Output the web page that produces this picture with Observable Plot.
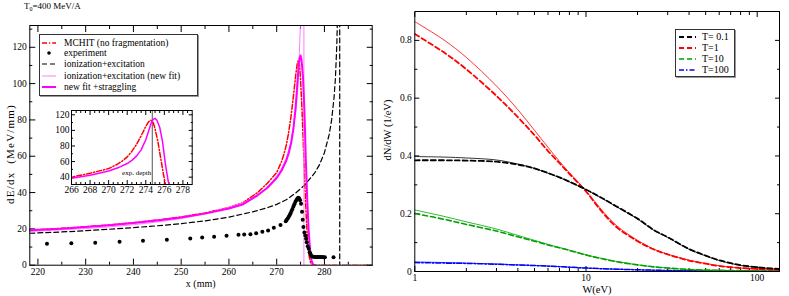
<!DOCTYPE html>
<html><head><meta charset="utf-8">
<script src="https://cdn.jsdelivr.net/npm/d3@7"></script>
<script src="https://cdn.jsdelivr.net/npm/@observablehq/plot@0.6"></script>
<style>
body{margin:0;background:#fff;}
#wrap{position:relative;width:789px;height:296px;overflow:hidden;font-family:"Liberation Serif","Times New Roman","DejaVu Serif",serif;color:#000;}
.abs{position:absolute;}
.lbl{position:absolute;white-space:nowrap;transform:translate(-50%,-50%);}
.rot{transform:translate(-50%,-50%) rotate(-90deg);}
.legend{position:absolute;background:#fff;border:1px solid #333;box-shadow:1px 1px 0 #999;}
.row{position:absolute;left:0;height:10px;white-space:nowrap;}
.row svg{position:absolute;top:0;}
.row span{position:absolute;top:0;line-height:10px;}
</style></head>
<body><div id="wrap"></div>
<script>
// ---------- left panel data (dE/dx vs depth, T0 = 400 MeV/A) ----------
const mchitX = [218.3,225,230,235,240,245,250,255,260,263,266,268,270,271,271.5,272,272.5,273,273.5,274,274.3,274.55,274.8,275.0,275.3,275.6,275.9,276.2,276.5,276.8,277.1,277.5,278,290];
const mchitY = [19.4,20.3,21.2,22.2,23.4,24.9,26.6,28.8,31.8,34.6,40,45,51,57,61,66,73,82,93,105,111,113,110,102,86,65,44,26,13,5,1.5,0.3,0,0];
const expX = [221.9,227,232,237.1,242,247,251.9,254.4,256.9,259.5,262,263.2,264.5,265.7,267,268.2,269.4,270.8,271.9,272.1,272.3,272.5,272.7,272.9,273.1,273.3,273.5,273.7,273.9,274.1,274.3,274.5,274.7,274.9,275.1,275.3,275.45,275.6,275.8,276.0,276.15,276.3,276.5,276.7,276.9,277.05,277.2,277.4,277.7,278.0,278.3,278.6,278.9,279.2,279.5,279.8,280.1,281.9];
const expY = [11.8,12.1,12.3,12.9,13.4,14.0,14.7,15.2,15.6,16.2,16.7,16.9,17.1,17.6,18.4,19.1,20.6,22.2,24.2,25,25.7,26.5,27.5,28.6,29.8,31,32.3,33.6,34.8,35.8,36.6,37.1,36.8,35.8,33.8,29.5,25,21,18,16.3,14.5,12.7,10.5,9,7.2,6.3,5.4,4.8,4.6,4.5,4.5,4.5,4.5,4.5,4.5,4.4,4.4,4.4];
const ionX = [218.3,225,230,235,240,245,250,255,260,265,268,270,272,274,276,278,279,280,281,281.5,282,282.3,282.6,282.8,283.2,283.2];
const ionY = [17.6,18.3,19.0,19.8,20.7,21.7,22.9,24.4,26.5,29.4,31.6,33.5,36,39.8,44.5,51,55.5,62,72,80,92,103,122,145,150,0];
const fitX = [218.3,225,230,235,240,245,250,255,260,264,267,269,271,272,273,274,274.5,274.9,275.1,275.7,275.7,276];
const fitY = [18.6,19.5,20.2,21.1,22.3,23.8,25.7,28.3,31.8,35.5,40.5,45.5,53,59,68,84,100,128,150,150,0,0];
const stragX = [218.3,225,230,235,240,245,250,255,260,263,266,268,270,271,272,272.5,273,273.5,274,274.3,274.6,274.8,275.0,275.2,275.5,275.8,276.1,276.4,276.7,277.0,277.3,277.6,278];
const stragY = [19.2,20.1,21.0,22.0,23.2,24.6,26.3,28.4,31.2,33.6,38.5,42.5,48,52,57.5,61.5,67,75,88,99,110,114,115.5,113,104,86,58,36,19,8,2.5,0.5,0];
const expDepth = [274.7];
const leftXTicks = [220,230,240,250,260,270,280];
const leftXMinor = [225,235,245,255,265,275,285];
const leftYTicks = [0,20,40,60,80,100,120];
const leftYMinor = [10,30,50,70,90,110,130];
const insetXTicks = [266,268,270,272,274,276,278];
const insetXMinor = [266.5,267,267.5,268.5,269,269.5,270.5,271,271.5,272.5,273,273.5,274.5,275,275.5,276.5,277,277.5,278.5];
const insetYTicks = [40,60,80,100,120];
const insetYMinor = [50,70,90,110];

// ---------- right panel data (dN/dW vs W) ----------
const W = [1,1.5,2,3,4,5,6,7,8,10,12,15,20,25,30,40,50,60,80,100,120,135];
const t01Fit  = [0.398,0.396,0.393,0.386,0.372,0.357,0.34,0.325,0.31,0.283,0.258,0.225,0.182,0.142,0.118,0.077,0.054,0.038,0.021,0.014,0.01,0.008];
const t01Calc = [0.385,0.385,0.384,0.38,0.37,0.357,0.341,0.326,0.311,0.284,0.259,0.226,0.183,0.143,0.119,0.078,0.055,0.039,0.022,0.015,0.011,0.009];
const t1Fit   = [0.865,0.799,0.741,0.642,0.56,0.489,0.43,0.381,0.342,0.28,0.222,0.16,0.108,0.077,0.06,0.039,0.028,0.02,0.012,0.009,0.007,0.006];
const t1Calc  = [0.822,0.756,0.7,0.608,0.534,0.472,0.417,0.375,0.338,0.277,0.217,0.155,0.105,0.076,0.059,0.038,0.027,0.019,0.012,0.009,0.007,0.006];
const t10Fit  = [0.213,0.19,0.172,0.147,0.125,0.108,0.094,0.083,0.074,0.058,0.047,0.035,0.023,0.016,0.012,0.007,0.005,0.004,0.003,0.002,0.0015,0.001];
const t10Calc = [0.201,0.18,0.163,0.14,0.12,0.105,0.092,0.082,0.073,0.057,0.046,0.034,0.023,0.016,0.012,0.007,0.005,0.004,0.003,0.002,0.0015,0.001];
const t100Fit = [0.033,0.031,0.029,0.026,0.023,0.021,0.019,0.017,0.015,0.012,0.01,0.008,0.006,0.0045,0.0035,0.0025,0.002,0.0015,0.001,0.0008,0.0006,0.0005];
const t100Calc= [0.031,0.029,0.028,0.025,0.0225,0.0205,0.0185,0.0168,0.015,0.012,0.01,0.008,0.006,0.0045,0.0035,0.0025,0.002,0.0015,0.001,0.0008,0.0006,0.0005];
const rightXTicks = [1,10,100];
const rightXMinor = [2,3,4,5,6,7,8,9,20,30,40,50,60,70,80,90];
const rightYTicks = [0,0.2,0.4,0.6,0.8];
const rightYMinor = [0.1,0.3,0.5,0.7];

const SERIF = '"Liberation Serif","Times New Roman","DejaVu Serif",serif';
const pts = (X, Y) => X.map((x, i) => ({x, y: Y[i]}));
const blank = () => "";

function frameTicks(o) {
  const fmt = o.fmt || (d => String(d));
  const big = o.big, small = o.small;
  return [
    Plot.axisX({anchor: "bottom", ticks: o.xt, tickSize: -big, tickPadding: big + o.padX, tickFormat: fmt, label: null}),
    Plot.axisX({anchor: "bottom", ticks: o.xm, tickSize: -small, tickFormat: blank, label: null}),
    Plot.axisX({anchor: "top", ticks: o.xt, tickSize: -big, tickFormat: blank, label: null}),
    Plot.axisX({anchor: "top", ticks: o.xm, tickSize: -small, tickFormat: blank, label: null}),
    Plot.axisY({anchor: "left", ticks: o.yt, tickSize: -big, tickPadding: big + o.padY, tickFormat: fmt, label: null}),
    Plot.axisY({anchor: "left", ticks: o.ym, tickSize: -small, tickFormat: blank, label: null}),
    Plot.axisY({anchor: "right", ticks: o.yt, tickSize: -big, tickFormat: blank, label: null}),
    Plot.axisY({anchor: "right", ticks: o.ym, tickSize: -small, tickFormat: blank, label: null})
  ];
}

const wrap = document.getElementById("wrap");
function place(node, left, top) {
  node.style.position = "absolute";
  node.style.left = left + "px";
  node.style.top = top + "px";
  wrap.appendChild(node);
}

// ---- left main plot ----
const leftPlot = Plot.plot({
  width: 390, height: 296,
  marginLeft: 29.3, marginRight: 18.3, marginTop: 25, marginBottom: 31.3,
  style: {fontFamily: SERIF, fontSize: "9.5px", background: "transparent", overflow: "visible"},
  x: {domain: [218.3, 290]},
  y: {domain: [0, 132]},
  marks: [
    ...frameTicks({xt: leftXTicks, xm: leftXMinor, yt: leftYTicks, ym: leftYMinor, big: 6, small: 3, padX: 3, padY: 3}),
    Plot.line(pts(mchitX, mchitY), {x: "x", y: "y", stroke: "#ff0000", strokeWidth: 1.5, strokeDasharray: "5,2,1.2,2", clip: true}),
    Plot.line(pts(ionX, ionY), {x: "x", y: "y", stroke: "#000", strokeWidth: 1.2, strokeDasharray: "5,3", clip: true}),
    Plot.line(pts(fitX, fitY), {x: "x", y: "y", stroke: "#ff7fff", strokeWidth: 1, clip: true}),
    Plot.line(pts(stragX, stragY), {x: "x", y: "y", stroke: "#ff00ff", strokeWidth: 2, clip: true}),
    Plot.dot(pts(expX, expY), {x: "x", y: "y", r: 2, fill: "#000", stroke: "none"}),
    Plot.frame({stroke: "#000"})
  ]
});
place(leftPlot, 0, 0);

// ---- inset ----
const insetPlot = Plot.plot({
  width: 160, height: 100,
  marginLeft: 30, marginRight: 9.3, marginTop: 12, marginBottom: 14,
  style: {fontFamily: SERIF, fontSize: "9.5px", background: "transparent", overflow: "visible"},
  x: {domain: [266, 279]},
  y: {domain: [30.6, 125.5]},
  marks: [
    Plot.frame({fill: "#fff", stroke: "none"}),
    ...frameTicks({xt: insetXTicks, xm: insetXMinor, yt: insetYTicks, ym: insetYMinor, big: 4, small: 2, padX: 2, padY: 2}),
    Plot.ruleX(expDepth, {stroke: "#555", strokeWidth: 1}),
    Plot.text(expDepth, {x: d => d, y: 46, text: () => "exp. depth", textAnchor: "end", dx: -1, fontSize: 7}),
    Plot.line(pts(mchitX, mchitY), {x: "x", y: "y", stroke: "#ff0000", strokeWidth: 1.5, strokeDasharray: "5,2,1.2,2", clip: true}),
    Plot.line(pts(stragX, stragY), {x: "x", y: "y", stroke: "#ff00ff", strokeWidth: 1.5, clip: true}),
    Plot.frame({stroke: "#000"})
  ]
});
place(insetPlot, 41, 98);

// ---- right plot ----
const GREEN = "#00a000";
const C = "catmull-rom";
const rightPlot = Plot.plot({
  width: 399, height: 296,
  marginLeft: 24.3, marginRight: 10, marginTop: 11, marginBottom: 25,
  style: {fontFamily: SERIF, fontSize: "9.5px", background: "transparent", overflow: "visible"},
  x: {type: "log", domain: [1, 135]},
  y: {domain: [0, 0.9]},
  marks: [
    ...frameTicks({xt: rightXTicks, xm: rightXMinor, yt: rightYTicks, ym: rightYMinor, big: 5, small: 3, padX: 3, padY: 3}),
    Plot.line(pts(W, t100Fit), {x: "x", y: "y", curve: C, stroke: "#0000ff", strokeWidth: 0.8, clip: true}),
    Plot.line(pts(W, t100Calc), {x: "x", y: "y", curve: C, stroke: "#0000ff", strokeWidth: 1.5, strokeDasharray: "5,2,1.5,2", clip: true}),
    Plot.line(pts(W, t10Fit), {x: "x", y: "y", curve: C, stroke: GREEN, strokeWidth: 0.8, clip: true}),
    Plot.line(pts(W, t10Calc), {x: "x", y: "y", curve: C, stroke: GREEN, strokeWidth: 1.6, strokeDasharray: "5,3", clip: true}),
    Plot.line(pts(W, t1Fit), {x: "x", y: "y", curve: C, stroke: "#ff0000", strokeWidth: 0.8, clip: true}),
    Plot.line(pts(W, t1Calc), {x: "x", y: "y", curve: C, stroke: "#ff0000", strokeWidth: 1.8, strokeDasharray: "5,3", clip: true}),
    Plot.line(pts(W, t01Fit), {x: "x", y: "y", curve: C, stroke: "#000", strokeWidth: 0.8, clip: true}),
    Plot.line(pts(W, t01Calc), {x: "x", y: "y", curve: C, stroke: "#000", strokeWidth: 1.8, strokeDasharray: "5,3", clip: true}),
    Plot.frame({stroke: "#000"})
  ]
});
place(rightPlot, 390, 0);

// ---- text: title, axis labels ----
function addText(html, x, y, size, cls) {
  const d = document.createElement("div");
  d.className = "lbl" + (cls ? " " + cls : "");
  d.innerHTML = html;
  d.style.left = x + "px"; d.style.top = y + "px"; d.style.fontSize = size + "px";
  wrap.appendChild(d);
  return d;
}
const title = document.createElement("div");
title.className = "abs";
title.style.left = "24px"; title.style.top = "1px"; title.style.fontSize = "9px";
title.innerHTML = 'T<sub style="font-size:6px;vertical-align:-2px">0</sub>=400 MeV/A';
wrap.appendChild(title);
addText("x (mm)", 200.7, 283, 10);
addText("dE/dx&nbsp;&nbsp;(MeV/mm)", 9.5, 154, 11, "rot").style.letterSpacing = "1.2px";
addText("W(eV)", 597, 289, 10.5);
addText("dN/dW (1/eV)", 387, 130, 10.5, "rot");

// ---- legends ----
function legend(left, top, w, h, rows, sx0, sx1, tx, fs) {
  const box = document.createElement("div");
  box.className = "legend";
  box.style.left = left + "px"; box.style.top = top + "px";
  box.style.width = w + "px"; box.style.height = h + "px";
  rows.forEach(r => {
    const row = document.createElement("div");
    row.className = "row";
    row.style.top = (r.y - 5) + "px";
    row.style.width = w + "px";
    let sample;
    if (r.dot) sample = `<circle cx="${(sx0 + sx1) / 2}" cy="5" r="1.8" fill="#000"/>`;
    else sample = `<line x1="${sx0}" x2="${sx1}" y1="5" y2="5" stroke="${r.c}" stroke-width="${r.w}" ${r.dash ? `stroke-dasharray="${r.dash}"` : ""}/>`;
    row.innerHTML = `<svg width="${w}" height="10">${sample}</svg><span style="left:${tx}px;font-size:${fs}px">${r.t}</span>`;
    box.appendChild(row);
  });
  wrap.appendChild(box);
}
legend(39, 34, 157, 60, [
  {y: 8, c: "#ff0000", w: 1.5, dash: "5,2,1.2,2", t: "MCHIT (no fragmentation)"},
  {y: 18, dot: true, t: "experiment"},
  {y: 29, c: "#000", w: 1.2, dash: "5,3", t: "ionization+excitation"},
  {y: 40.5, c: "#ff7fff", w: 1, t: "ionization+excitation (new fit)"},
  {y: 52, c: "#ff00ff", w: 2, t: "new fit +straggling"}
], 2, 16, 24, 9.5);
legend(675, 29, 58, 46, [
  {y: 7.4, c: "#000", w: 1.8, dash: "5,3", t: "T= 0.1"},
  {y: 18.4, c: "#ff0000", w: 1.8, dash: "5,3", t: "T=1"},
  {y: 29.4, c: GREEN, w: 1.6, dash: "5,3", t: "T=10"},
  {y: 40, c: "#0000ff", w: 1.5, dash: "5,2,1.5,2", t: "T=100"}
], 3, 20, 26, 10);
</script>
</body></html>
